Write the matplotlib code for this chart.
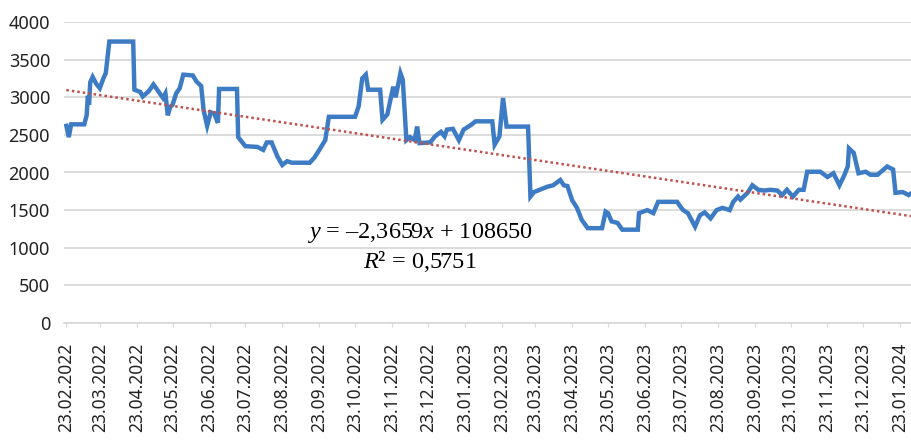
import numpy as np
import matplotlib
matplotlib.use('Agg')
import matplotlib.pyplot as plt
import matplotlib.dates as mdates

# дни от 23.02.2022 и значения ряда
days = [0, 2, 4, 15, 17, 18, 19, 20, 22, 25, 28, 31, 33, 36, 56, 57, 62, 64, 69, 73,
        77, 81, 83, 85, 87, 89, 92, 95, 98, 106, 109, 113, 115, 118, 121, 124, 127, 128, 143, 144,
        150, 160, 165, 168, 172, 177, 181, 185, 189, 204, 208, 212, 217, 220, 242, 245, 248, 251, 253, 263,
        265, 269, 274, 276, 280, 282, 285, 288, 292, 294, 296, 305, 309, 314, 317, 319, 324, 329, 333, 339,
        343, 357, 359, 363, 366, 369, 387, 389, 392, 403, 408, 414, 417, 420, 424, 428, 432, 437, 449, 452,
        454, 457, 462, 466, 479, 480, 487, 492, 496, 512, 515, 517, 521, 527, 531, 535, 540, 545, 550, 556,
        559, 563, 565, 571, 575, 580, 585, 590, 596, 600, 604, 609, 614, 618, 621, 632, 638, 643, 648, 652,
        655, 656, 660, 664, 670, 674, 680, 688, 693, 695, 701, 706, 708]
values = [2620, 2470, 2640, 2640, 2760, 3020, 2900, 3200, 3270, 3180, 3120, 3250, 3320, 3740, 3740, 3100, 3070, 3010, 3080, 3170,
          3080, 2990, 3050, 2760, 2870, 2900, 3050, 3120, 3300, 3290, 3210, 3150, 2830, 2620, 2800, 2780, 2660, 3110, 3110, 2470,
          2350, 2340, 2300, 2400, 2400, 2210, 2100, 2150, 2130, 2130, 2200, 2300, 2430, 2740, 2740, 2880, 3250, 3300, 3100, 3100,
          2700, 2770, 3140, 3000, 3320, 3230, 2430, 2470, 2430, 2610, 2390, 2400, 2480, 2540, 2480, 2570, 2580, 2430, 2570, 2630,
          2680, 2680, 2370, 2480, 2990, 2610, 2610, 1680, 1740, 1810, 1830, 1900, 1830, 1820, 1630, 1530, 1370, 1260, 1260, 1480,
          1460, 1350, 1330, 1240, 1240, 1460, 1500, 1460, 1610, 1610, 1540, 1500, 1460, 1280, 1430, 1470, 1390, 1500, 1530, 1500,
          1610, 1680, 1640, 1730, 1830, 1770, 1760, 1770, 1760, 1700, 1770, 1680, 1770, 1770, 2010, 2010, 1940, 1990, 1830, 1960,
          2080, 2320, 2260, 1990, 2010, 1970, 1970, 2080, 2040, 1730, 1740, 1700, 1720]

# линия тренда (Excel): y = slope * serial + intercept
slope = -2.3659
intercept = 108650
trend_text = r'$y$ = –2,3659$x$ + 108650'
r2_text = r'$R$² = 0,5751'

start = np.datetime64('2022-02-23')
dates = start + np.array(days).astype('timedelta64[D]')
serial = (dates - np.datetime64('1899-12-30')).astype(int)
trend = slope * serial + intercept

plt.rcParams['font.family'] = ['Noto Sans', 'DejaVu Sans']
plt.rcParams['mathtext.fontset'] = 'custom'
plt.rcParams['mathtext.rm'] = 'Liberation Serif'
plt.rcParams['mathtext.it'] = 'Liberation Serif:italic'

fig = plt.figure(figsize=(9.11, 4.4), dpi=100)
ax = fig.add_axes([64 / 911, 1 - 323 / 440, 1 - 64 / 911, 301 / 440])

ax.plot(dates, values, color='#3d7bc4', lw=3.2, solid_joinstyle='miter', zorder=3)
ax.plot(dates[[0, -1]], trend[[0, -1]], color='#c0504d', lw=1.8,
        linestyle=(0, (1, 1.2)), zorder=4)

ax.set_ylim(0, 4000)
ax.set_yticks(np.arange(0, 4001, 500))
ax.set_xlim(start - np.timedelta64(2, 'D'), start + np.timedelta64(708, 'D'))
ax.xaxis.set_major_locator(mdates.MonthLocator(bymonthday=23))
ax.xaxis.set_major_formatter(mdates.DateFormatter('%d.%m.%Y'))

ax.grid(axis='y', color='#d9d9d9', lw=1.3)
ax.set_axisbelow(True)
for s in ['top', 'right', 'left']:
    ax.spines[s].set_visible(False)
ax.spines['bottom'].set_color('#d9d9d9')
ax.spines['bottom'].set_linewidth(1.3)
ax.tick_params(axis='y', length=0, pad=10, labelsize=13, labelcolor='#222222')
ax.tick_params(axis='x', length=3, color='#d9d9d9', pad=11, labelsize=12.5,
               labelcolor='#222222', labelrotation=90)
for lbl in ax.get_xticklabels():
    lbl.set_va('top')

fig.text(0.461, 0.470, trend_text, ha='center', va='center',
         fontsize=17.5, family='Liberation Serif')
fig.text(0.461, 0.405, r2_text, ha='center', va='center',
         fontsize=17.5, family='Liberation Serif')

fig.savefig('out.png', dpi=100)
